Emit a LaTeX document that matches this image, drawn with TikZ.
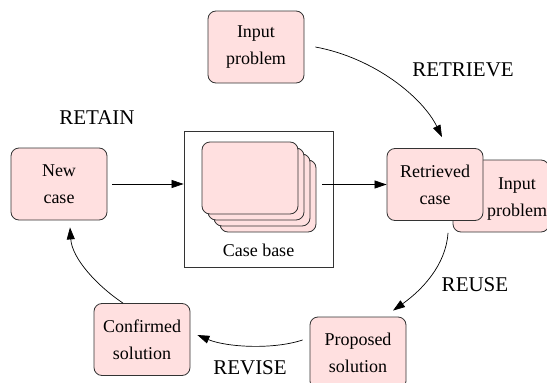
\documentclass[tikz,border=0pt]{standalone}
\usepackage{fontspec}
\setmainfont{Liberation Serif}
\usetikzlibrary{arrows.meta,calc}
\definecolor{boxfill}{HTML}{FFE0E0}
\definecolor{boxline}{HTML}{333333}
\tikzset{
 box/.style={draw=boxline, fill=boxfill, rounded corners=8pt, minimum width=96pt, minimum height=72pt, inner sep=0pt, align=center, font=\fontsize{18}{27}\selectfont, line width=0.8pt},
 card/.style={draw=boxline, fill=boxfill, rounded corners=8pt, minimum width=96pt, minimum height=72pt, inner sep=0pt, line width=0.8pt},
 boxtext/.style={align=center, font=\fontsize{18}{27}\selectfont, inner sep=0pt},
 lbl/.style={font=\fontsize{21}{25}\selectfont, inner sep=0pt},
 flow/.style={draw=black, line width=0.7pt, -{Triangle[length=12pt,width=8pt]}},
 frame/.style={draw=boxline, line width=0.8pt, fill=white},
}
\begin{document}
\begin{tikzpicture}[x=1pt,y=-1pt]
\useasboundingbox (0,0) rectangle (547,383);
% case base frame
\node[frame, minimum width=149pt, minimum height=136pt, inner sep=0pt] (cb) at (258.5,199) {};
\node[card] (c3) at (268,196) {};
\node[card] (c2) at (262,190) {};
\node[card] (c1) at (256,184) {};
\node[card] (c0) at (250,178) {};
\node[boxtext] (cbt) at (258.5,250) {Case base};
% nodes
\node[box] (inp) at (256,47) {Input\\problem};
\node[box] (new) at (59,184) {New\\case};
\node[box] (inp2) at (501,196) {};
\node[boxtext] (inp2t) at (517,199) {Input\\problem};
\node[box] (ret) at (435,184.5) {Retrieved\\case};
\node[box] (prop) at (358,353) {Proposed\\solution};
\node[box] (conf) at (142,339.5) {Confirmed\\solution};
% labels
\node[lbl] (lretr) at (463,70) {RETRIEVE};
\node[lbl] (lretain) at (97,118) {RETAIN};
\node[lbl] (lreuse) at (475,285) {REUSE};
\node[lbl] (lrevise) at (250,368) {REVISE};
% connectors
\draw[flow, shorten <=5pt] (new.east) -- (cb.west |- new.east);
\draw[flow] ([xshift=-11pt]cb.east |- ret.west) -- (ret.west);
\draw[flow] ([xshift=11pt]inp.east) .. controls (375,58) and (423,98) .. ([xshift=7pt,yshift=11pt]ret.north);
\draw[flow] ([xshift=13pt,yshift=-12pt]ret.south) .. controls (446,265) and (422,290) .. ([xshift=35pt,yshift=6pt]prop.north);
\draw[flow] ([xshift=-7pt,yshift=13pt]prop.west) .. controls (272,350) and (226,347) .. ([xshift=7pt,yshift=4.5pt]conf.east);
\draw[flow] ([xshift=-19pt]conf.north) .. controls (96,285) and (72,258) .. ([xshift=11pt,yshift=-7pt]new.south);
\end{tikzpicture}
\end{document}
